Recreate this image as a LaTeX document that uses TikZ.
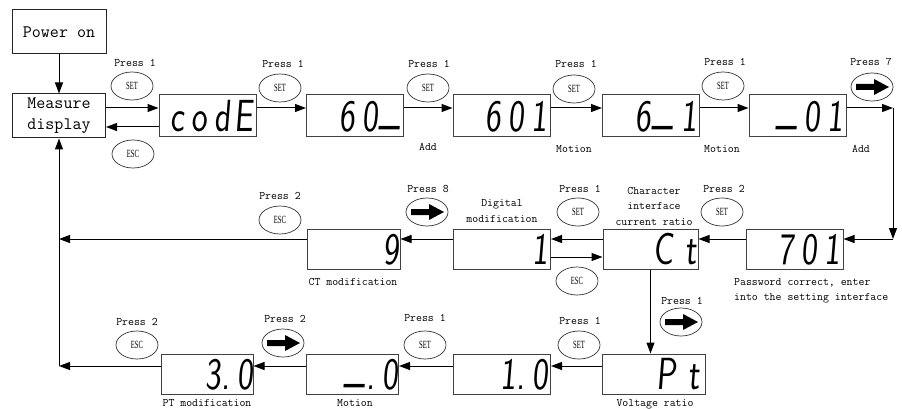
\documentclass[tikz,border=0pt]{standalone}
\usepackage{fontspec}
\usetikzlibrary{arrows.meta,shapes.geometric,calc}
\newfontfamily\segfont[FakeStretch=0.75,FakeSlant=0.08]{lmsans17-regular.otf}
\newfontfamily\btnfont[FakeStretch=0.6]{Liberation Serif}
\newcommand\dg[1]{\makebox[23pt][r]{#1}}
\newcommand\us{\raisebox{0.2em}{\_}}
\newcommand\arricon[1]{\fill[shift={(#1.center)}] (-16,-3) -- (2,-3) -- (2,-8) -- (17,0) -- (2,8) -- (2,3) -- (-16,3) -- cycle;}
\begin{document}
\begin{tikzpicture}[x=1pt,y=-1pt,
  box/.style={draw=black!85, line width=1pt, inner sep=0pt, align=center,
    font=\ttfamily\fontsize{17.5}{21}\selectfont},
  disp/.style={draw=black!75, line width=1pt, inner sep=0pt, minimum width=97pt,
    minimum height=42pt, text height=31pt, text depth=0pt,
    font=\segfont\fontsize{45}{45}\selectfont},
  btn/.style={ellipse, draw=black!80, line width=0.7pt, minimum width=42pt,
    minimum height=28pt, inner sep=0pt, font=\btnfont\fontsize{11}{11}\selectfont},
  lbl/.style={font=\ttfamily\fontsize{11.5}{13.5}\selectfont, inner sep=0pt,
    text height=7pt, text depth=2pt},
  lbltwo/.style={font=\ttfamily\fontsize{11.5}{15.5}\selectfont, inner sep=0pt},
  conn/.style={-{Triangle[length=11pt,width=8pt]}, line width=1pt}]
\fill[white] (0,0) rectangle (902,409);
\useasboundingbox (0,0) rectangle (902,409);

% boxes
\node[box, minimum width=94pt, minimum height=44pt] (pow) at (59,32) {Power on};
\node[box, minimum width=93pt, minimum height=44pt] (meas) at (59,116) {Measure\\display};

% top row
\node[disp] (codE) at (207.5,116) {\dg{c}\dg{o}\dg{d}\dg{E}};
\node[disp] (s60) at (355,116) {\dg{}\dg{6}\dg{0}\dg{\us}};
\node[disp] (s601) at (501.5,116) {\dg{}\dg{6}\dg{0}\dg{1}};
\node[disp] (s61) at (651,116) {\dg{}\dg{6}\dg{\us}\dg{1}};
\node[disp] (s01) at (797.5,116) {\dg{}\dg{\us}\dg{0}\dg{1}};

% middle row
\node[disp, minimum height=40pt] (s701) at (794.5,249) {\dg{}\dg{7}\dg{0}\dg{1}};
\node[disp, minimum height=40pt, minimum width=95pt] (sCt) at (650.5,249) {\dg{}\dg{}\dg{C}\dg{t}};
\node[disp, minimum height=40pt] (s1) at (502,249) {\dg{}\dg{}\dg{}\dg{1}};
\node[disp, minimum height=40pt, minimum width=93pt] (s9) at (353.5,249) {\dg{}\dg{}\dg{}\dg{9}};

% bottom row
\node[disp, minimum width=103pt, minimum height=40pt] (sPt) at (653.5,374) {\dg{}\dg{}\dg{P}\dg{t}};
\node[disp, minimum height=40pt] (s10) at (502,374) {\dg{}\dg{}\dg{1.}\dg{0}};
\node[disp, minimum width=91pt, minimum height=40pt] (s0) at (352.5,374) {\dg{}\dg{}\dg{\us\kern1pt.}\dg{0}};
\node[disp, minimum width=90pt, minimum height=40pt] (s30) at (207,374) {\dg{}\dg{}\dg{3.}\dg{0}};

% top labels
\node[lbl] (t1) at (135,64) {Press 1};
\node[btn] (b1) at (132,86) {SET};
\node[btn] (b2) at (133,154) {ESC};
\node[lbl] (t2) at (283,65) {Press 1};
\node[btn] (b3) at (280,88) {SET};
\node[lbl] (t3) at (429,65) {Press 1};
\node[btn] (b4) at (428,88) {SET};
\node[lbl] (t4) at (428,148) {Add};
\node[lbl] (t5) at (576,65) {Press 1};
\node[btn] (b5) at (574,89) {SET};
\node[lbl] (t6) at (574,150) {Motion};
\node[lbl] (t7) at (725,63) {Press 1};
\node[btn] (b6) at (723,86) {SET};
\node[lbl] (t8) at (722,150) {Motion};
\node[lbl] (t9) at (871,63) {Press 7};
\node[btn] (b7) at (872,87) {};
\arricon{b7}
\node[lbl] (t10) at (861,150) {Add};

% middle labels
\node[lbl] (t11) at (724,190) {Press 2};
\node[btn] (b8) at (722,212) {SET};
\node[lbltwo, align=center] (t12) at (654,206) {Character\\interface\\current ratio};
\node[lbl] (t13) at (580,190) {Press 1};
\node[btn] (b9) at (578,212) {SET};
\node[btn] (b10) at (577,281) {ESC};
\node[lbltwo, align=center] (t14) at (502,211) {Digital\\modification};
\node[lbl] (t15) at (428,190) {Press 8};
\node[btn] (b11) at (427,212) {};
\arricon{b11}
\node[lbl] (t16) at (280,197) {Press 2};
\node[btn] (b12) at (280,220) {ESC};
\node[lbl] (t17) at (353,283) {CT modification};
\node[lbltwo, align=left, anchor=west] (t18) at (734,291) {Password correct, enter\\into the setting interface};

% bottom labels
\node[lbl] (t19) at (682,302) {Press 1};
\node[btn] (b13) at (681,322) {};
\arricon{b13}
\node[lbl] (t20) at (580,322) {Press 1};
\node[btn] (b14) at (579,345) {SET};
\node[lbl] (t21) at (425,319) {Press 1};
\node[btn] (b15) at (425,345) {SET};
\node[lbl] (t22) at (285,320) {Press 2};
\node[btn] (b16) at (283,343) {};
\arricon{b16}
\node[lbl] (t23) at (137,323) {Press 2};
\node[btn] (b17) at (137,345) {ESC};
\node[lbl] (t24) at (655,404) {Voltage ratio};
\node[lbl] (t25) at (355,404) {Motion};
\node[lbl] (t26) at (207,404) {PT modification};

% coordinates
\coordinate (c1) at (893,108);
\coordinate (c2) at (893,239);
\coordinate (c3) at (59,239);
\coordinate (c4) at (59,366);

% connectors
\draw[conn] (pow.south) -- (meas.north);
\draw[conn] ($(meas.east)+(0,-8)$) -- ($(codE.west)+(0,-8)$);
\draw[conn] ($(codE.west)+(0,11)$) -- ($(meas.east)+(0,11)$);
\draw[conn] ($(codE.east)+(0,-8)$) -- ($(s60.west)+(0,-8)$);
\draw[conn] ($(s60.east)+(0,-8)$) -- ($(s601.west)+(0,-8)$);
\draw[conn] ($(s601.east)+(0,-8)$) -- ($(s61.west)+(0,-8)$);
\draw[conn] ($(s61.east)+(0,-8)$) -- ($(s01.west)+(0,-8)$);
\draw[conn] ($(s01.east)+(0,-8)$) -- (c1);
\draw[conn] (c1) -- (c2);
\draw[conn] (c2) -- ($(s701.east)+(0,-10)$);
\draw[conn] ($(s701.west)+(0,-10)$) -- ($(sCt.east)+(0,-10)$);
\draw[conn] ($(sCt.west)+(0,-10)$) -- ($(s1.east)+(0,-10)$);
\draw[conn] ($(s1.east)+(0,8)$) -- ($(sCt.west)+(0,8)$);
\draw[conn] ($(s1.west)+(0,-10)$) -- ($(s9.east)+(0,-10)$);
\draw[conn] ($(s9.west)+(0,-10)$) -- (c3);
\draw[conn] (sCt.south) -- (sCt.south |- sPt.north);
\draw[conn] ($(sPt.west)+(0,-8)$) -- ($(s10.east)+(0,-8)$);
\draw[conn] ($(s10.west)+(0,-8)$) -- ($(s0.east)+(0,-8)$);
\draw[conn] ($(s0.west)+(0,-8)$) -- ($(s30.east)+(0,-8)$);
\draw[conn] ($(s30.west)+(0,-8)$) -- (c4);
\draw[conn] (c4) -- (c4 |- meas.south);
\end{tikzpicture}
\end{document}
